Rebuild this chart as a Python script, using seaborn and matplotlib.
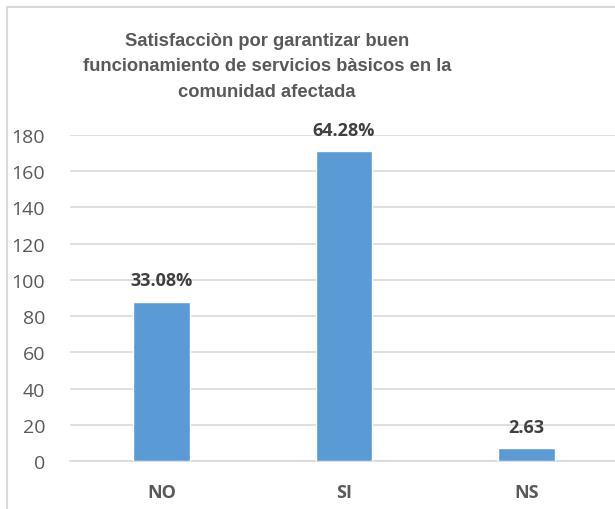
import matplotlib
matplotlib.use("Agg")
import matplotlib.pyplot as plt
import seaborn as sns
import pandas as pd
from matplotlib.patches import Rectangle

categorias = ["NO", "SI", "NS"]
valores = [88, 171, 7]
etiquetas = ["33.08%", "64.28%", "2.63"]
titulo = "Satisfacciòn por garantizar buen\nfuncionamiento de servicios bàsicos en la\ncomunidad afectada"

df = pd.DataFrame({"cat": categorias, "val": valores})

sns.set_style("white")
plt.rcParams["font.family"] = ["Open Sans", "DejaVu Sans"]
gris = "#595959"

fig = plt.figure(figsize=(6.15, 5.1), dpi=100)
ax = fig.add_axes([70 / 615, 1 - 462 / 510, 548 / 615, 326 / 510])

sns.barplot(data=df, x="cat", y="val", color="#5B9BD5", saturation=1,
            width=0.312, ax=ax, zorder=3)

ax.set_ylim(0, 180)
ax.set_yticks(range(0, 181, 20))
ax.yaxis.grid(True, color="#D9D9D9", linewidth=1.2, zorder=0)
ax.set_axisbelow(True)
for s in ["left", "right", "top"]:
    ax.spines[s].set_visible(False)
ax.spines["bottom"].set_color("#D9D9D9")
ax.spines["bottom"].set_linewidth(1.2)
ax.set_xlabel("")
ax.set_ylabel("")
ax.tick_params(axis="both", length=0, colors=gris)
ax.tick_params(axis="y", labelsize=14, pad=18)
ax.tick_params(axis="x", labelsize=13, pad=16)
for t in ax.get_xticklabels():
    t.set_fontweight("bold")

for i, (v, lab) in enumerate(zip(valores, etiquetas)):
    ax.annotate(lab, (i, v), xytext=(0, 9), textcoords="offset points",
                ha="center", va="bottom", fontsize=13, fontweight="bold",
                color="#404040")

fig.text(267 / 615, 1 - 33 / 510, titulo, ha="center", va="top",
         fontsize=13.2, fontweight="bold", color=gris,
         family=["Liberation Sans", "DejaVu Sans"], linespacing=1.65)

fig.add_artist(Rectangle((7 / 615, -0.1), 1.2, 1 - 8 / 510 + 0.1,
                         transform=fig.transFigure, fill=False,
                         edgecolor="#D9D9D9", linewidth=1.5))

fig.savefig("out.png", dpi=100)
